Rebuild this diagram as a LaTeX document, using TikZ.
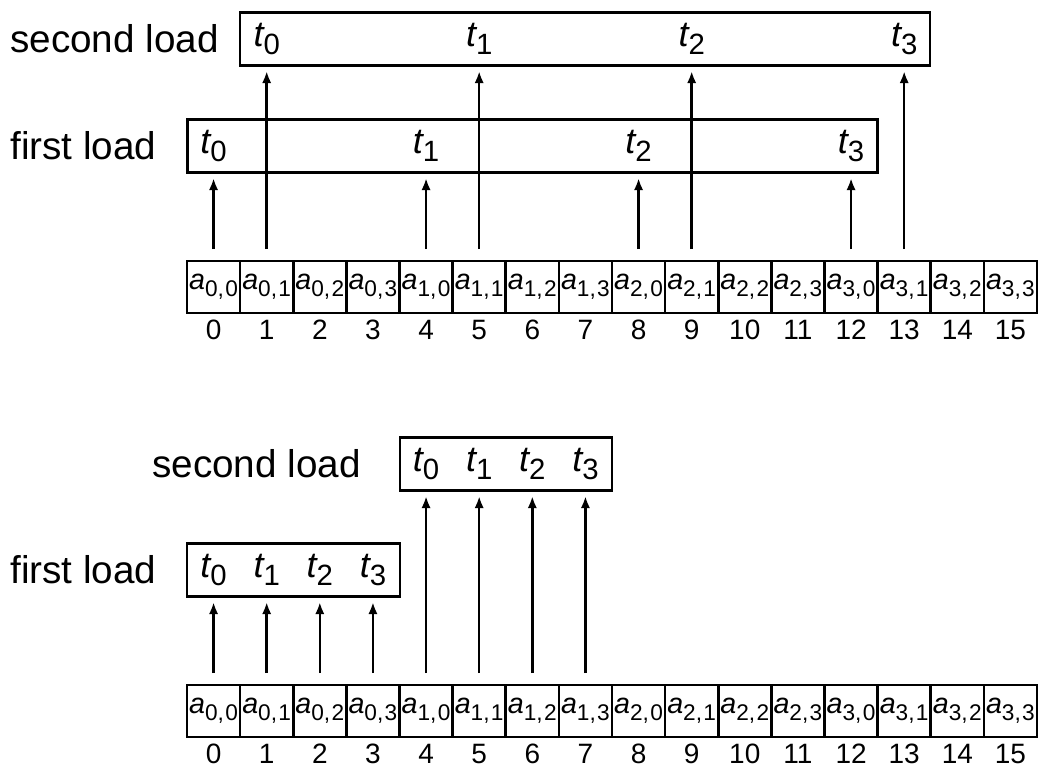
\documentclass[tikz,border=0pt]{standalone}
\usepackage{fontspec}
\setmainfont{Liberation Sans}
\usetikzlibrary{arrows.meta, positioning, calc}

% array element a_{i,j} and thread t_k
\newcommand{\elem}[2]{{\itshape a}\raisebox{-5.5pt}{\fontsize{17}{17}\selectfont #1,\kern1pt#2}}
\newcommand{\thr}[1]{{\itshape t}\raisebox{-5.5pt}{\fontsize{22}{22}\selectfont #1}}

\begin{document}
\begin{tikzpicture}[
    x=0.75pt, y=-0.75pt,
    cell/.style={draw, line width=2pt, minimum width=39.84pt, minimum height=39pt,
        inner sep=0pt, font=\fontsize{21.5}{21}\selectfont},
    idx/.style={inner sep=0pt, text height=15pt, text depth=0pt, font=\fontsize{21}{21}\selectfont},
    loadbox/.style={draw, line width=2.2pt, minimum height=40pt, inner sep=0pt},
    tlab/.style={inner sep=0pt, font=\fontsize{27}{27}\selectfont},
    lbl/.style={anchor=west, inner sep=0pt, font=\fontsize{29}{29}\selectfont},
    ld/.style={-{Latex[length=9pt,width=7pt]}, line width=1.8pt, shorten <=8pt, shorten >=3pt}
  ]
  \useasboundingbox (0,0) rectangle (1039,769);

  % strided access (top)
  \foreach \i in {0,...,15} {
    \pgfmathtruncatemacro\ri{\i/4}
    \pgfmathtruncatemacro\ci{mod(\i,4)}
    \node[cell] (c\i) at ({187+53.125*(\i+0.5)},287) {\elem{\ri}{\ci}};
    \node[idx, below=4pt of c\i] (n\i) {\i};
  }
  \node[loadbox, minimum width=517.5pt] (sec1) at (585,39) {};
  \node[loadbox, minimum width=518pt] (fst1) at (532.5,146) {};
  \node[lbl] (lsec1) at (10,39) {second load};
  \node[lbl] (lfst1) at (10,146) {first load};

  \foreach \k [count=\j from 0] in {0,4,8,12} {
    \node[tlab] (f\j) at (c\k |- fst1) {\thr{\j}};
    \draw[ld] (c\k.north) -- (c\k.north |- fst1.south);
  }
  \foreach \k [count=\j from 0] in {1,5,9,13} {
    \node[tlab] (s\j) at (c\k |- sec1) {\thr{\j}};
    \draw[ld] (c\k.north) -- (c\k.north |- sec1.south);
  }

  % coalesced access (bottom)
  \foreach \i in {0,...,15} {
    \pgfmathtruncatemacro\ri{\i/4}
    \pgfmathtruncatemacro\ci{mod(\i,4)}
    \node[cell] (d\i) at ({187+53.125*(\i+0.5)},711) {\elem{\ri}{\ci}};
    \node[idx, below=4pt of d\i] (m\i) {\i};
  }
  \node[loadbox, minimum width=159pt] (sec2) at (506,464) {};
  \node[loadbox, minimum width=159.75pt] (fst2) at (293.5,570) {};
  \node[lbl] (lsec2) at (152,464) {second load};
  \node[lbl] (lfst2) at (10,570) {first load};

  \foreach \k [count=\j from 0] in {0,1,2,3} {
    \node[tlab] (g\j) at (d\k |- fst2) {\thr{\j}};
    \draw[ld] (d\k.north) -- (d\k.north |- fst2.south);
  }
  \foreach \k [count=\j from 0] in {4,5,6,7} {
    \node[tlab] (h\j) at (d\k |- sec2) {\thr{\j}};
    \draw[ld] (d\k.north) -- (d\k.north |- sec2.south);
  }
\end{tikzpicture}
\end{document}
